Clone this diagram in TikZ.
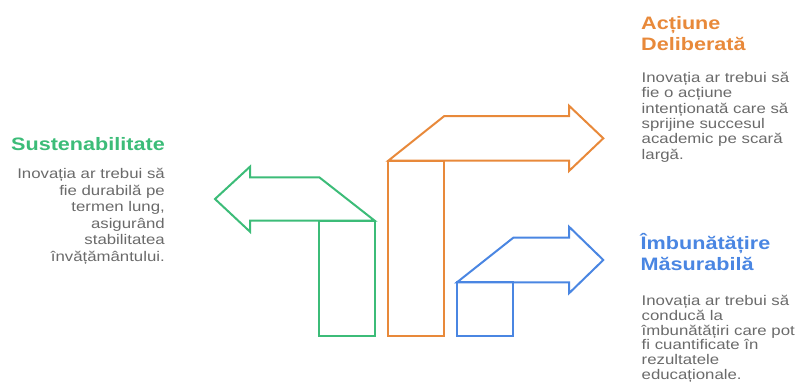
\documentclass[tikz,border=0pt]{standalone}
\usepackage{fontspec}
\setmainfont{Liberation Sans}
\newfontfamily\ttlfont[FakeStretch=1.2]{Liberation Sans}
\newfontfamily\bdyfont[FakeStretch=1.2]{Liberation Sans}
\definecolor{cgreen}{HTML}{3CBC78}
\definecolor{corange}{HTML}{E8893A}
\definecolor{cblue}{HTML}{4A86E2}
\definecolor{cgray}{HTML}{6A6A6A}
\begin{document}
\begin{tikzpicture}[x=1pt,y=-1pt,
  shapeline/.style={line width=2pt, line join=miter},
  ttl/.style={font=\ttlfont\bfseries\fontsize{18}{21}\selectfont, inner sep=0pt},
  bdy/.style={text=cgray, inner sep=0pt}]
\useasboundingbox (0,0) rectangle (803,383);
% green
\draw[shapeline, cgreen] (319.3,220.7) rectangle (374.7,336);
\draw[shapeline, cgreen] (374.7,220.7) -- (250,220.7) -- (250,231.7) -- (215,199) -- (250,166.7) -- (250,177.3) -- (319.3,177.3) -- cycle;
% orange
\draw[shapeline, corange] (388.3,160.7) rectangle (443.7,336);
\draw[shapeline, corange] (388.3,160.7) -- (444.3,116) -- (569,116) -- (569,105.7) -- (603.3,138.3) -- (569,171) -- (569,160.7) -- cycle;
% blue
\draw[shapeline, cblue] (457,282.3) rectangle (513.3,336);
\draw[shapeline, cblue] (457,282.3) -- (513.3,237.7) -- (569,237.7) -- (569,226.7) -- (603.3,260) -- (569,293.3) -- (569,282.3) -- cycle;
% texts
\node[ttl, text=cgreen, anchor=east] (gt) at (165,144) {Sustenabilitate};
\node[bdy, anchor=north east, align=right, font=\bdyfont\fontsize{14}{16.5}\selectfont] (gb) at (165,168)
  {Inovația ar trebui să\\fie durabilă pe\\termen lung,\\asigurând\\stabilitatea\\învățământului.};
\node[ttl, text=corange, anchor=north west, align=left] (ot) at (641,16.5) {Acțiune\\Deliberată};
\node[bdy, anchor=north west, align=left, font=\bdyfont\fontsize{14}{15.3}\selectfont] (ob) at (641.5,72)
  {Inovația ar trebui să\\fie o acțiune\\intenționată care să\\sprijine succesul\\academic pe scară\\largă.};
\node[ttl, text=cblue, anchor=north west, align=left] (bt) at (640.5,233) {Îmbunătățire\\Măsurabilă};
\node[bdy, anchor=north west, align=left, font=\bdyfont\fontsize{14}{14.8}\selectfont] (bb) at (641.5,295)
  {Inovația ar trebui să\\conducă la\\îmbunătățiri care pot\\fi cuantificate în\\rezultatele\\educaționale.};
\end{tikzpicture}
\end{document}
